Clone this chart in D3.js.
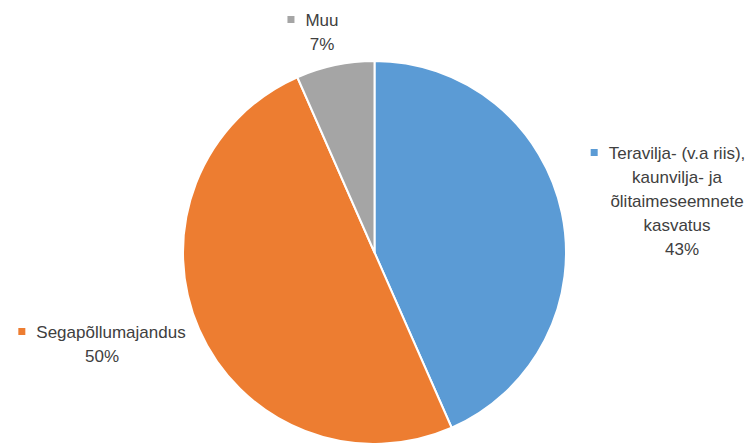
<!DOCTYPE html>
<html lang="et">
<head>
    <meta charset="UTF-8">
    <title>Pie Chart | D3</title>
    <style>
        body { margin: 0; background: #fff; }
        text { font-family: "Liberation Sans", Arial, sans-serif; fill: #404040; }
    </style>
</head>
<body>
    <div id="pie-chart-container"></div>

    <script src="https://d3js.org/d3.v7.min.js"></script>
    <script>
        // Data.
        var categories = ["Teravilja- (v.a riis), kaunvilja- ja õlitaimeseemnete kasvatus", "Segapõllumajandus", "Muu"];
        var values = [43.4, 50.0, 6.6];
        var percentLabels = ["43%", "50%", "7%"];
        // Label text split over lines as in the original.
        var labelLines = [
            ["Teravilja- (v.a riis),", "kaunvilja- ja", "õlitaimeseemnete", "kasvatus"],
            ["Segapõllumajandus"],
            ["Muu"]
        ];
        var colors = ["#5B9BD5", "#ED7D31", "#A5A5A5"];

        var width = 749,
            height = 443;

        var cx = 374.5, cy = 252.5, radius = 191.5;

        // Where each outside label sits: centre x of text lines, first baseline y,
        // centre x of the percentage line.
        var labelPos = [
            { x: 677, y: 159, px: 682 },
            { x: 111, y: 338, px: 102 },
            { x: 322, y: 26, px: 322 }
        ];
        var lineHeight = 24;

        var svgCanvas = d3.select("#pie-chart-container")
            .append("svg")
            .attr("width", width)
            .attr("height", height);

        var table = categories.map(function(c, i) {
            return { name: c, value: values[i], pct: percentLabels[i], lines: labelLines[i], color: colors[i], pos: labelPos[i] };
        });

        var pie = d3.pie()
            .sort(null)
            .value(function(d) { return d.value; });

        var arc = d3.arc()
            .innerRadius(0)
            .outerRadius(radius);

        var pieGroup = svgCanvas.append("g")
            .attr("class", "slices")
            .attr("transform", "translate(" + cx + "," + cy + ")");

        pieGroup.selectAll("path")
            .data(pie(table))
            .enter()
                .append("path")
                .attr("d", arc)
                .attr("fill", function(d) { return d.data.color; })
                .attr("stroke", "#fff")
                .attr("stroke-width", 2)
                .attr("stroke-linejoin", "round");

        // Data labels with a legend key in front of the first line.
        var labelGroup = svgCanvas.append("g")
            .attr("class", "labels")
            .style("font-size", "17px");

        table.forEach(function(d) {
            var g = labelGroup.append("g");
            d.lines.forEach(function(line, j) {
                g.append("text")
                    .attr("x", d.pos.x)
                    .attr("y", d.pos.y + j * lineHeight)
                    .attr("text-anchor", "middle")
                    .text(line);
            });
            g.append("text")
                .attr("x", d.pos.px)
                .attr("y", d.pos.y + d.lines.length * lineHeight)
                .attr("text-anchor", "middle")
                .text(d.pct);
            // key square left of first line
            var first = g.select("text").node().getBBox();
            g.append("rect")
                .attr("x", first.x - 18)
                .attr("y", d.pos.y - 10)
                .attr("width", 7)
                .attr("height", 7)
                .attr("fill", d.color);
        });
    </script>
</body>
</html>
